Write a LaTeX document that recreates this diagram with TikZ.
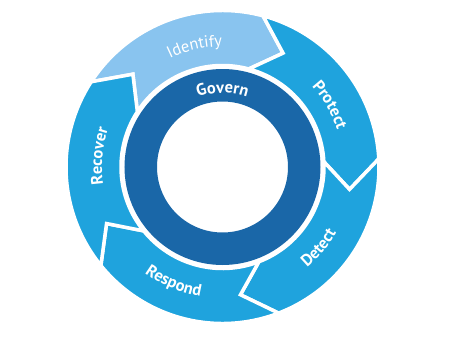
\documentclass[tikz,border=0pt]{standalone}
\usepackage{fontspec}
\setmainfont{PT Sans}
\usepackage{tikz}
\usetikzlibrary{decorations.text}
\definecolor{govblue}{HTML}{1A67A8}
\definecolor{cycblue}{HTML}{1FA3DD}
\definecolor{idblue}{HTML}{89C4EF}
\newcommand{\ringfont}{\fontsize{16.5}{16.5}\selectfont\bfseries}
\newcommand{\idfont}{\fontsize{16.5}{16.5}\selectfont}
\tikzset{
  ringtext/.style={decorate,decoration={text along path,text align=center,text color=white,text={|\ringfont|#1}}},
  idtext/.style={decorate,decoration={text along path,text align=center,text color=white,text={|\idfont|#1}}},
  segment/.style={draw=white,line width=3.5,line join=miter}
}

\begin{document}
\begin{tikzpicture}[x=1pt,y=1pt]
  \useasboundingbox (-222.5,-171) rectangle (227.5,167);
  \def\R{156.5}
  \def\r{101.5}
  \def\m{129}
  \def\t{13}
  % five arrows of the cycle, tail angle / colour
  \foreach \a/\c in {147/idblue,75/cycblue,3/cycblue,-69/cycblue,-141/cycblue}{
    \pgfmathsetmacro{\b}{\a-72}
    \filldraw[segment,fill=\c] (\a:\R) arc[start angle=\a,end angle=\b,radius=\R]
      -- (\b-\t:\m) -- (\b:\r) arc[start angle=\b,end angle=\a,radius=\r]
      -- (\a-\t:\m) -- cycle;}
  \fill[govblue,even odd rule] (0,0) circle[radius=98] (0,0) circle[radius=65.5];
  % labels
  \path[ringtext=Govern] (135:74) arc[start angle=135,end angle=45,radius=74];
  \path[idtext=Identify] (133:120.5) arc[start angle=133,end angle=73,radius=120.5];
  \path[ringtext=Protect] (60:120.5) arc[start angle=60,end angle=0,radius=120.5];
  \path[ringtext=Detect] (-70:131.5) arc[start angle=-70,end angle=-10,radius=131.5];
  \path[ringtext=Respond] (-143:131.5) arc[start angle=-143,end angle=-83,radius=131.5];
  \path[ringtext=Recover] (205:120.5) arc[start angle=205,end angle=145,radius=120.5];
\end{tikzpicture}
\end{document}
